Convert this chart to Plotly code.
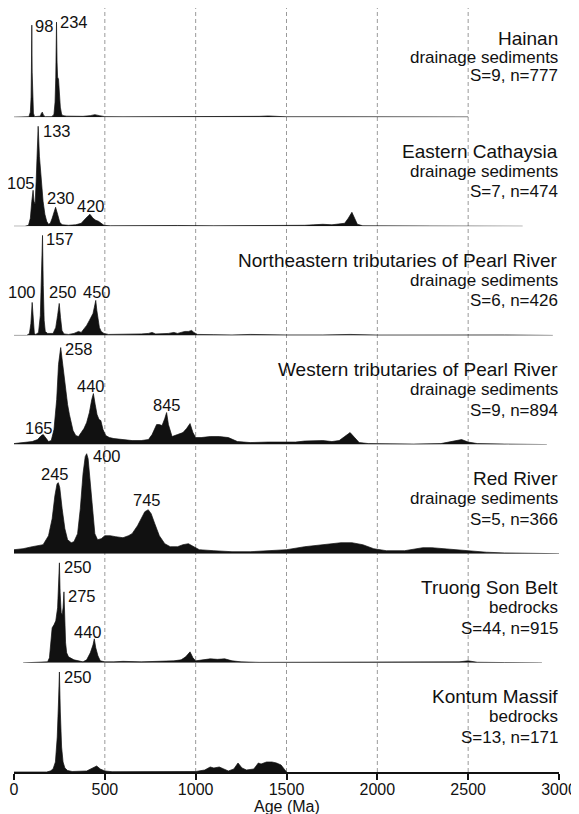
import plotly.graph_objects as go
from plotly.subplots import make_subplots

# ---------------- data ----------------
x_ticks = [0, 500, 1000, 1500, 2000, 2500, 3000]
grid_ages = [500, 1000, 1500, 2000, 2500]

names = ["Hainan", "Eastern Cathaysia", "Northeastern tributaries of Pearl River",
         "Western tributaries of Pearl River", "Red River", "Truong Son Belt", "Kontum Massif"]
kinds = ["drainage sediments", "drainage sediments", "drainage sediments",
         "drainage sediments", "drainage sediments", "bedrocks", "bedrocks"]
counts = ["S=9, n=777", "S=7, n=474", "S=6, n=426", "S=9, n=894",
          "S=5, n=366", "S=44, n=915", "S=13, n=171"]

hainan_age = [0, 60, 82, 90, 94, 96, 98, 100, 103, 107, 113, 130, 145, 151, 156, 162, 172,
              205, 215, 220, 226, 230, 234, 237, 240, 245, 250, 255, 262, 270, 290, 320, 380,
              420, 445, 470, 500, 600, 800, 1000, 1200, 1350, 1400, 1450, 1500, 1800, 2100,
              2300, 2500]
hainan_p = [0, 0, 0.5, 5, 20, 50, 92, 45, 15, 4, 0.5, 0.5, 1, 4, 5, 2, 0.5,
            0.5, 1.5, 3, 15, 40, 95, 55, 40, 38, 25, 10, 3, 1.5, 1, 0.8, 0.8,
            1.5, 2.5, 1.5, 0.5, 0.3, 0.3, 0.3, 0.3, 0.8, 1.2, 0.8, 0.3, 0.3, 0.3,
            0.3, 0.2]

cathaysia_age = [0, 60, 80, 90, 98, 105, 110, 116, 122, 128, 133, 140, 150, 160, 170, 180,
                 190, 200, 210, 220, 229, 240, 252, 265, 300, 340, 370, 395, 418, 435, 450,
                 465, 480, 495, 530, 700, 900, 1100, 1300, 1500, 1600, 1650, 1700, 1750,
                 1790, 1820, 1840, 1860, 1875, 1890, 1920, 2100, 2300, 2500, 2700, 2800]
cathaysia_p = [0, 0, 1, 8, 25, 36, 25, 22, 45, 80, 100, 70, 45, 25, 12, 5,
               2, 3, 8, 15, 19, 12, 4, 1.5, 1, 1.5, 3, 8, 12, 8, 6,
               5, 3, 1, 0.5, 0.8, 0.8, 0.5, 0.5, 0.6, 1, 1.5, 2, 1.5,
               2, 3, 8, 14, 8, 2, 0.5, 0.5, 0.6, 0.5, 0.3, 0]

ne_pearl_age = [0, 70, 85, 93, 100, 106, 112, 120, 135, 145, 150, 157, 161, 166, 172, 185,
                215, 230, 240, 249, 256, 264, 275, 300, 330, 355, 370, 385, 400, 415, 425,
                435, 442, 450, 456, 462, 470, 480, 495, 520, 600, 700, 740, 760, 780, 820,
                850, 880, 900, 920, 940, 960, 978, 990, 1010, 1100, 1200, 1300, 1400, 1500,
                1700, 1850, 2000, 2200, 2500, 2700, 2966]
ne_pearl_p = [0, 0, 2, 12, 33, 12, 2, 1, 3, 20, 50, 100, 50, 15, 4, 2,
              2, 8, 20, 32, 18, 5, 1.5, 1, 2, 4, 3, 6, 10, 15, 18,
              22, 28, 35, 25, 15, 8, 4, 2, 1, 1, 1.5, 2, 3, 1.5, 1.5,
              2, 3, 2, 3, 4, 4, 5, 3, 1, 0.8, 0.5, 1, 0.5, 0.5,
              0.5, 1, 0.4, 0.5, 1, 0.5, 0]

w_pearl_age = [0, 50, 100, 130, 150, 161, 175, 190, 205, 220, 235, 245, 257, 265, 275, 285,
               295, 305, 315, 325, 340, 355, 370, 385, 400, 415, 428, 437, 447, 457, 468,
               478, 490, 505, 525, 550, 600, 650, 700, 740, 760, 785, 800, 815, 830, 840,
               850, 870, 900, 930, 950, 969, 985, 1000, 1030, 1080, 1130, 1180, 1230, 1300,
               1400, 1500, 1550, 1600, 1650, 1700, 1750, 1790, 1820, 1850, 1875, 1900, 1950,
               2050, 2200, 2350, 2420, 2464, 2500, 2550, 2700, 2933]
w_pearl_p = [1, 2, 3, 5, 9, 10, 7, 3, 4, 15, 45, 80, 97, 85, 65, 50,
             40, 30, 22, 14, 9, 8, 12, 16, 22, 32, 45, 51, 40, 30, 25,
             24, 15, 9, 7, 6, 5, 4, 4, 5, 10, 20, 20, 19, 26, 32,
             20, 8, 10, 12, 16, 21, 12, 7, 7, 8, 8, 7, 3, 2,
             2.5, 2, 2.5, 3.5, 4, 4, 3, 4, 8, 12, 7, 2, 1,
             0.5, 0.5, 1, 3, 5, 2.5, 1, 0.5, 0]

red_age = [0, 50, 100, 160, 190, 210, 225, 237, 244, 252, 265, 280, 295, 315, 330, 350,
           365, 380, 392, 400, 408, 420, 432, 445, 460, 480, 500, 530, 560, 600, 630, 650,
           680, 700, 720, 739, 755, 775, 800, 830, 860, 900, 930, 960, 990, 1020, 1100,
           1200, 1300, 1400, 1500, 1600, 1700, 1800, 1860, 1920, 1980, 2050, 2150, 2250,
           2300, 2400, 2500, 2600, 2700, 2850, 3000]
red_p = [4, 5, 7, 9, 18, 35, 58, 70, 71, 66, 45, 25, 14, 11, 12, 20,
         45, 80, 97, 100, 95, 70, 40, 20, 14, 15, 18, 18, 17, 16, 18, 20,
         28, 35, 42, 44, 40, 30, 18, 10, 7, 7, 9, 10, 7, 4, 3,
         2, 2, 3, 4, 7, 9, 11, 11, 9, 5, 3, 3, 6,
         6, 4.5, 3, 1.5, 0.8, 0.3, 0]

truong_age = [50, 100, 150, 185, 195, 203, 210, 220, 230, 240, 246, 250, 254, 260, 265, 270,
              275, 279, 284, 290, 300, 330, 360, 380, 400, 420, 435, 442, 450, 462, 475,
              500, 550, 600, 700, 800, 880, 920, 945, 969, 985, 1000, 1040, 1080, 1120,
              1160, 1200, 1250, 1350, 1500, 1700, 1900, 2100, 2300, 2450, 2500, 2550, 2700,
              2906]
truong_p = [0, 0.2, 0.5, 1, 5, 25, 35, 38, 42, 55, 75, 100, 70, 50, 48, 55,
            71, 45, 20, 10, 6, 3, 1.5, 1, 3, 10, 18, 24, 15, 7, 2,
            1, 1, 1.5, 1, 1.5, 2, 3, 6, 11, 5, 2, 3, 4, 3.5,
            4, 2, 1, 0.5, 0.6, 0.5, 0.5, 0.5, 0.7, 1, 2, 0.6, 0.3,
            0]

kontum_age = [0, 180, 200, 215, 228, 238, 245, 250, 255, 262, 270, 280, 295, 320, 400, 430,
              455, 475, 500, 540, 700, 900, 1000, 1050, 1080, 1100, 1130, 1155, 1180, 1210,
              1233, 1255, 1280, 1320, 1345, 1360, 1390, 1420, 1445, 1470, 1490, 1500]
kontum_p = [0, 0, 1, 3, 10, 35, 70, 100, 60, 25, 10, 4, 1.5, 0.5, 1, 4,
            6, 3, 1, 0.3, 0.3, 0.3, 0.5, 2, 5, 4, 5, 3, 1, 3,
            9, 4, 2, 3, 9, 8, 10, 10, 9, 7, 2, 0]

ages = [hainan_age, cathaysia_age, ne_pearl_age, w_pearl_age, red_age, truong_age, kontum_age]
probs = [hainan_p, cathaysia_p, ne_pearl_p, w_pearl_p, red_p, truong_p, kontum_p]

# peak labels: (panel, text)
peak_labels = [
    (0, "98"), (0, "234"),
    (1, "133"), (1, "105"), (1, "230"), (1, "420"),
    (2, "157"), (2, "100"), (2, "250"), (2, "450"),
    (3, "258"), (3, "440"), (3, "845"), (3, "165"),
    (4, "245"), (4, "400"), (4, "745"),
    (5, "250"), (5, "275"), (5, "440"),
    (6, "250"),
]
# label placement (age, height, anchor)
peak_pos = [
    (108, 91, "left"), (249, 95.5, "left"),
    (152, 95, "left"), (122, 43.5, "right"), (260, 28, "center"), (425, 20, "center"),
    (171, 96, "left"), (128, 43, "right"), (270, 43, "center"), (458, 43, "center"),
    (275, 95.5, "left"), (425, 59, "center"), (843, 40, "center"), (139, 17, "center"),
    (226, 80, "center"), (428, 98, "left"), (732, 53.5, "center"),
    (271, 96, "left"), (290, 66.5, "left"), (409, 31, "center"),
    (271, 95, "left"),
]

# ---------------- figure ----------------
FONT = "Liberation Sans, Arial, sans-serif"
INK = "#111111"
PANEL_H = 109.14

fig = make_subplots(rows=7, cols=1, shared_xaxes=True, vertical_spacing=0)

for i in range(7):
    fig.add_trace(go.Scatter(x=ages[i], y=probs[i], mode="lines", fill="tozeroy",
                             fillcolor=INK, line=dict(color=INK, width=0.7),
                             hoverinfo="skip", showlegend=False),
                  row=i + 1, col=1)
    fig.update_yaxes(range=[0, PANEL_H], visible=False, fixedrange=True, row=i + 1, col=1)
    fig.update_xaxes(range=[0, 3000], showgrid=False, zeroline=False, row=i + 1, col=1)

    yref = "y" if i == 0 else f"y{i + 1}"
    title_h = (79, 60, 42) if i == 0 else (75, 55, 34.5)
    for txt, h, size in zip([names[i], kinds[i], counts[i]], title_h, [19, 17, 17]):
        fig.add_annotation(x=3000, y=h, xref="x", yref=yref, text=txt, showarrow=False,
                           xanchor="right", yanchor="middle", borderpad=0,
                           font=dict(family=FONT, size=size, color=INK))

for (panel, txt), (a, h, anc) in zip(peak_labels, peak_pos):
    yref = "y" if panel == 0 else f"y{panel + 1}"
    fig.add_annotation(x=a, y=h, xref="x", yref=yref, text=txt, showarrow=False,
                       xanchor=anc, yanchor="middle", borderpad=0,
                       font=dict(family=FONT, size=16.5, color=INK))

for g in grid_ages:
    fig.add_shape(type="line", x0=g, x1=g, y0=0, y1=1, xref="x7", yref="paper",
                  line=dict(color="#9a9a9a", width=1, dash="4px,3px"), layer="below")

# x-axis title
fig.add_annotation(x=1500, y=0, xref="x7", yref="paper", text="Age (Ma)", showarrow=False,
                   xanchor="center", yanchor="middle", yshift=-34, borderpad=0,
                   font=dict(family=FONT, size=16, color=INK))

fig.update_xaxes(showline=False, ticks="", row=1, col=1)
fig.update_xaxes(row=7, col=1, showline=True, linecolor=INK, linewidth=1.5,
                 ticks="outside", ticklen=6, tickwidth=1.5, tickcolor=INK,
                 ticklabelstandoff=-4,
                 tickvals=x_ticks, ticktext=[str(t) for t in x_ticks],
                 tickfont=dict(family=FONT, size=16, color=INK))

# the page body carries an 8px margin, so the figure is sized to fit inside it
fig.update_layout(width=571, height=806, margin=dict(l=6, r=20, t=0, b=42, autoexpand=False),
                  paper_bgcolor="white", plot_bgcolor="white", showlegend=False)

fig.write_html("out.html")
